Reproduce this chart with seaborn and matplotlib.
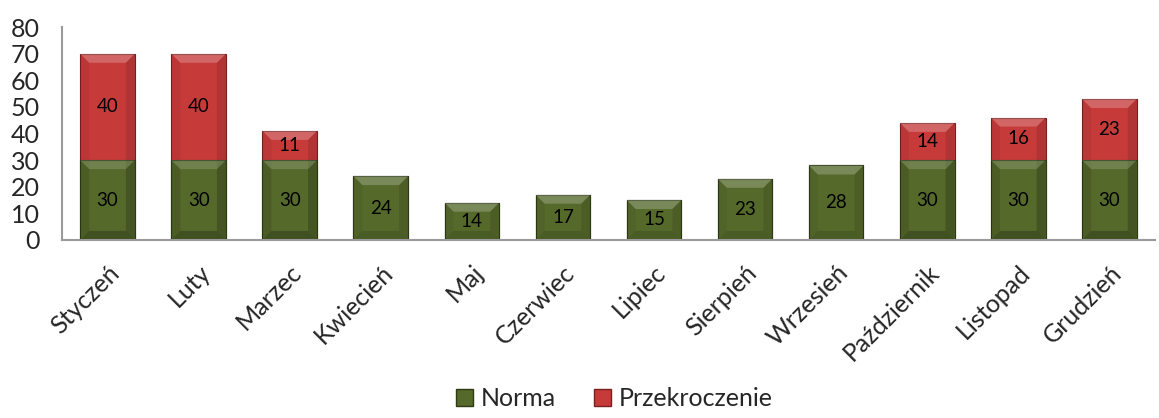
import matplotlib
matplotlib.use("Agg")
import matplotlib.pyplot as plt
import seaborn as sns
import pandas as pd
from matplotlib.patches import Patch, Polygon

months = ["Styczeń", "Luty", "Marzec", "Kwiecień", "Maj", "Czerwiec",
          "Lipiec", "Sierpień", "Wrzesień", "Październik", "Listopad", "Grudzień"]
norma = [30, 30, 30, 24, 14, 17, 15, 23, 28, 30, 30, 30]
przekroczenie = [40, 40, 11, 0, 0, 0, 0, 0, 0, 14, 16, 23]
y_ticks = [0, 10, 20, 30, 40, 50, 60, 70, 80]

green = "#55692B"
red = "#C63A3A"

sns.set_theme(style="white")
plt.rcParams["font.family"] = ["Lato", "DejaVu Sans"]

df = pd.DataFrame({"month": months, "norma": norma, "przekroczenie": przekroczenie})
df["total"] = df["norma"] + df["przekroczenie"]

fig = plt.figure(figsize=(11.59, 4.18), dpi=100)
ax = fig.add_axes([0.0535, 0.426, 0.943, 0.509])

# stacked look: total in red underneath, norma in green on top
sns.barplot(data=df, x="month", y="total", color=red, width=0.6,
            edgecolor="#7A1F1F", linewidth=0.8, saturation=1, ax=ax)
sns.barplot(data=df, x="month", y="norma", color=green, width=0.6,
            edgecolor="#2E3A14", linewidth=0.8, saturation=1, ax=ax)

ax.set_ylim(0, 80)
ax.set_xlim(-0.5, len(months) - 0.5)
fig.canvas.draw()


def bevel(patch, top, size=9):
    """Draw a soft bevel (light top, dark bottom and sides) over a bar segment."""
    x0, y0, w, h = patch.get_bbox().bounds
    (X0, Y0), (X1, Y1) = ax.transData.transform([(x0, y0), (x0 + w, y0 + h)])
    s = min(size, (Y1 - Y0) / 2)
    pieces = [
        ([(X0, Y1), (X1, Y1), (X1 - s, Y1 - s), (X0 + s, Y1 - s)], "white", 0.22 if top else 0.16),
        ([(X0, Y0), (X1, Y0), (X1 - s, Y0 + s), (X0 + s, Y0 + s)], "black", 0.12),
        ([(X0, Y0), (X0, Y1), (X0 + s, Y1 - s), (X0 + s, Y0 + s)], "black", 0.05),
        ([(X1, Y0), (X1, Y1), (X1 - s, Y1 - s), (X1 - s, Y0 + s)], "black", 0.10),
    ]
    for pts, col, a in pieces:
        ax.add_patch(Polygon(pts, closed=True, transform=None, facecolor=col,
                             alpha=a, edgecolor="none", zorder=patch.get_zorder() + 0.1))


n = len(months)
red_patches = ax.patches[:n]
green_patches = ax.patches[n:2 * n]
for i in range(n):
    if przekroczenie[i] > 0:
        bevel(red_patches[i], top=True)
        bevel(green_patches[i], top=False)
    else:
        bevel(green_patches[i], top=True)

for i, (nv, p) in enumerate(zip(norma, przekroczenie)):
    ax.text(i, nv / 2, str(nv), ha="center", va="center", fontsize=13.5, color="black", zorder=5)
    if p > 0:
        ax.text(i, nv + p / 2, str(p), ha="center", va="center", fontsize=13.5, color="black", zorder=5)

ax.set_yticks(y_ticks)
ax.set_yticklabels([str(v) for v in y_ticks], fontsize=18)
ax.set_xticks(range(n))
ax.set_xticklabels(months, rotation=45, ha="right", rotation_mode="anchor", fontsize=18)
ax.tick_params(axis="y", length=0, pad=16)
ax.tick_params(axis="x", length=0, pad=15)
ax.set_xlabel("")
ax.set_ylabel("")

for side in ["top", "right"]:
    ax.spines[side].set_visible(False)
for side in ["left", "bottom"]:
    ax.spines[side].set_color("#9A9A9A")
    ax.spines[side].set_linewidth(1.5)

handles = [Patch(facecolor=green, edgecolor="#2E3A14", label="Norma"),
           Patch(facecolor=red, edgecolor="#7A1F1F", label="Przekroczenie")]
fig.legend(handles=handles, loc="lower center", bbox_to_anchor=(0.53, -0.035), ncol=2,
           frameon=False, fontsize=18, handlelength=0.7, handleheight=0.7,
           handletextpad=0.3, columnspacing=1.5)

fig.savefig("out.png", dpi=100)
